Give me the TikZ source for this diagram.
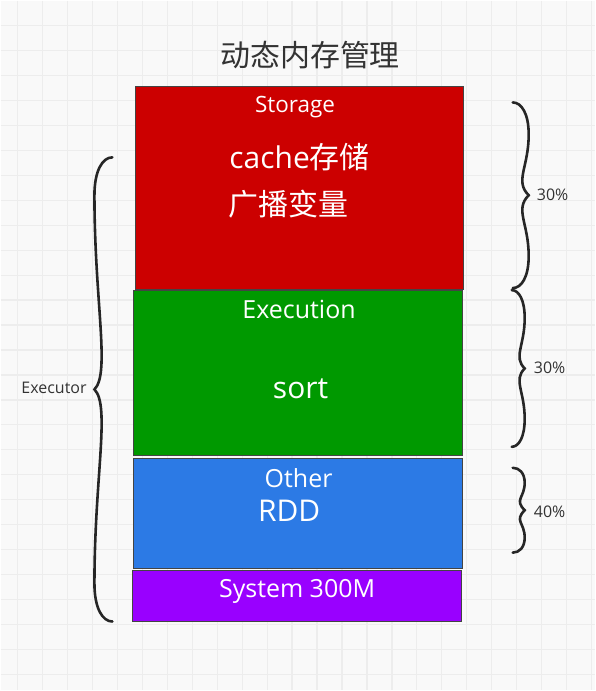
\documentclass[tikz,border=0pt]{standalone}
\usepackage{fontspec}
\setmainfont{Open Sans}
\newfontfamily\cjk{Noto Sans CJK SC}
\definecolor{bgcol}{HTML}{F9F9F9}
\definecolor{gridcol}{HTML}{EDEDED}
\definecolor{storred}{HTML}{CC0000}
\definecolor{execgreen}{HTML}{009900}
\definecolor{otherblue}{HTML}{2C7AE5}
\definecolor{syspurple}{HTML}{9900FF}
\definecolor{inkgray}{HTML}{333333}
\definecolor{edgegray}{HTML}{444444}

\begin{document}
\begin{tikzpicture}[x=1pt, y=-1pt,
  part/.style={draw=edgegray, line width=1pt, inner sep=0pt},
  bigtxt/.style={text=white, font=\fontsize{30}{36}\selectfont},
  midtxt/.style={text=white, font=\fontsize{25}{30}\selectfont},
  sidetxt/.style={text=inkgray, font=\fontsize{16}{19}\selectfont},
  bracestroke/.style={draw=black!85, line width=2.6pt, line cap=round},
  % curly brace: #1 half height, #2 amplitude, #3 curl length
  pics/curly/.style n args={3}{code={
    \draw[bracestroke] (0,0)
      .. controls ({0.55*#2},0) and (#2,{0.35*#3}) .. (#2,#3)
      .. controls (#2,{0.45*#3+0.55*#1}) and ({0.1*#2},{#1-0.9*#2}) .. (#2,#1)
      .. controls ({0.1*#2},{#1+0.9*#2}) and (#2,{1.45*#1-0.45*#3}) .. (#2,{2*#1-#3})
      .. controls (#2,{2*#1-0.35*#3}) and ({0.55*#2},{2*#1}) .. (0,{2*#1});
  }}]
  % --- Background with grid ---
  \fill[bgcol] (0,0) rectangle (595,691);
  \foreach \gx in {17,42,...,592}
    \draw[gridcol, line width=1.2pt] (\gx,0) -- (\gx,691);
  \foreach \gy in {25,50,...,675}
    \draw[gridcol, line width=1.2pt] (0,\gy) -- (595,\gy);
  \useasboundingbox (0,0) rectangle (595,691);

  % --- Title ---
  \node[text=inkgray, font=\cjk\fontsize{30}{36}\selectfont] (title)
    at (310,55) {动态内存管理};

  % --- Memory parts, top to bottom ---
  \node[part, fill=storred, minimum width=329pt, minimum height=203pt]
    (storage) at (299.5,187.5) {};
  \node[part, fill=execgreen, minimum width=330pt, minimum height=166pt]
    (execution) at (298,373) {};
  \node[part, fill=otherblue, minimum width=330pt, minimum height=110pt]
    (other) at (298,514) {};
  \node[part, fill=syspurple, minimum width=330pt, minimum height=51pt]
    (system) at (297,596) {};

  % Texts inside the parts.
  \node[text=white, font=\fontsize{22.5}{27}\selectfont] (storlbl)
    at (295,107) {Storage};
  \node[bigtxt] (cachelbl) at (299.5,157) {cache{\cjk 存储}};
  \node[bigtxt, font=\cjk\fontsize{30}{36}\selectfont] (bcastlbl)
    at (288.5,204) {广播变量};
  \node[midtxt] (execlbl) at (299,309) {Execution};
  \node[bigtxt] (sortlbl) at (300.5,389) {sort};
  \node[midtxt] (otherlbl) at (298.5,478) {Other};
  \node[bigtxt] (rddlbl) at (289,511) {RDD};
  \node[midtxt] (syslbl) at (297,592) {System 300M};

  % --- Right braces: shares ---
  \coordinate (st1) at (513,102);
  \coordinate (ex1) at (512,290);
  \coordinate (ot1) at (513,468);
  \pic at (st1) {curly={93}{16}{32}};
  \pic at (ex1) {curly={78.5}{13}{28}};
  \pic at (ot1) {curly={42.5}{12}{15}};
  \node[sidetxt] (storpct) at (553,195) {30\%};
  \node[sidetxt] (execpct) at (550,368) {30\%};
  \node[sidetxt] (otherpct) at (550,512) {40\%};

  % --- Left brace: Executor ---
  \coordinate (ex9) at (112,157);
  \pic[xscale=-1] at (ex9) {curly={232.5}{18}{38}};
  \node[sidetxt] (executor) at (53.5,388) {Executor};
\end{tikzpicture}
\end{document}
